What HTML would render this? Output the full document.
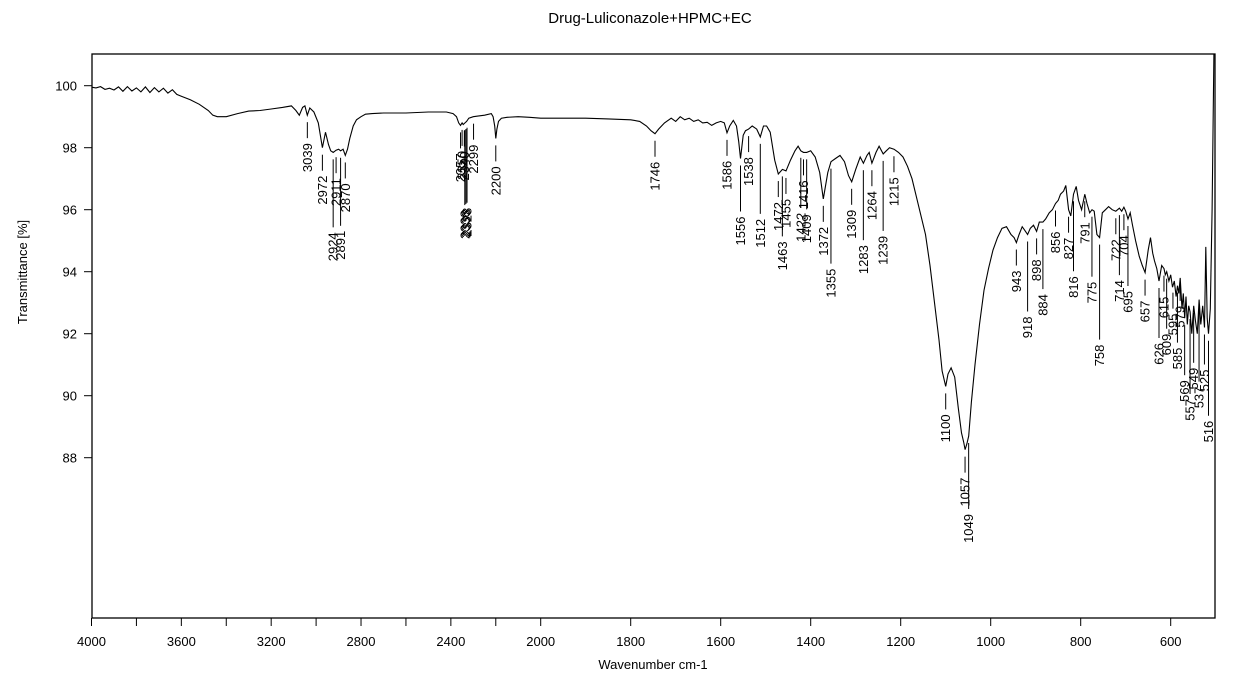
<!DOCTYPE html>
<html><head><meta charset="utf-8"><style>
body{margin:0;background:#fff;}
svg{display:block;font-family:"Liberation Sans",Arial,sans-serif;}
</style></head><body>
<svg id="chart" width="1256" height="687" viewBox="0 0 1256 687" xmlns="http://www.w3.org/2000/svg">
<text x="650" y="23" font-size="15" text-anchor="middle">Drug-Luliconazole+HPMC+EC</text>
<text transform="translate(27,272) rotate(-90)" font-size="13" text-anchor="middle">Transmittance [%]</text>
<text x="653" y="669" font-size="13" text-anchor="middle">Wavenumber cm-1</text>
<rect x="92" y="54" width="1123" height="564" fill="none" stroke="#000" stroke-width="1.3"/>
<g id="axes"></g>
<path id="spectrum" fill="none" stroke="#000" stroke-width="1.1"/>
<g id="peaks"></g>
</svg>
<script>
const xTicks=[4000,3800,3600,3400,3200,3000,2800,2600,2400,2200,2000,1800,1600,1400,1200,1000,800,600];
const xTickLabels=[4000,3600,3200,2800,2400,2000,1800,1600,1400,1200,1000,800,600];
const yTicks=[88,90,92,94,96,98,100];
const waves=[
4000,3980,3960,3940,3920,3900,3880,3860,3840,3820,
3800,3780,3760,3740,3720,3700,3680,3660,3640,3620,
3600,3560,3520,3480,3460,3440,3400,3350,3300,3250,
3200,3150,3110,3090,3075,3060,3050,3039,3028,3010,
2990,2972,2958,2945,2935,2924,2911,2900,2891,2880,
2870,2860,2850,2835,2820,2800,2780,2750,2700,2600,
2500,2420,2390,2375,2365,2357,2350,2345,2340,2330,
2320,2300,2280,2250,2220,2212,2205,2200,2195,2188,
2175,2150,2100,2050,2000,1950,1900,1850,1800,1780,
1765,1755,1746,1738,1725,1710,1700,1690,1680,1670,
1660,1650,1640,1630,1620,1610,1600,1592,1586,1580,
1572,1565,1560,1556,1550,1545,1538,1530,1520,1512,
1505,1498,1490,1480,1472,1463,1455,1445,1435,1428,
1422,1416,1409,1400,1390,1380,1372,1362,1355,1345,
1335,1325,1316,1309,1300,1290,1283,1275,1270,1264,
1255,1248,1239,1232,1225,1215,1205,1195,1185,1175,
1165,1155,1145,1135,1125,1115,1108,1100,1095,1088,
1080,1072,1065,1060,1057,1053,1049,1043,1035,1025,
1015,1005,995,985,975,965,955,948,943,937,
930,925,918,912,905,898,892,884,878,870,
863,856,850,845,838,833,827,822,816,810,
805,798,791,786,780,775,770,764,758,752,
745,738,730,722,718,714,709,704,700,695,
690,685,678,670,663,657,650,645,640,636,
631,626,620,615,612,609,604,600,596,592,
588,585,582,579,575,572,569,566,563,560,
557,553,549,545,541,537,533,529,525,522,
519,516,512,508,504,502];
const trans=[
99.95,99.93,99.97,99.88,99.92,99.86,99.96,99.82,99.97,99.83,
99.93,99.8,99.96,99.78,99.94,99.8,99.92,99.76,99.87,99.72,
99.66,99.55,99.4,99.2,99.05,99.0,99.0,99.1,99.18,99.2,
99.25,99.3,99.35,99.2,99.05,99.3,99.35,99.05,99.28,99.15,
98.8,98.0,98.5,98.1,97.9,97.85,97.92,97.95,97.9,97.95,
97.75,97.95,98.3,98.7,98.9,99.0,99.08,99.1,99.12,99.12,
99.15,99.15,99.1,99.0,98.8,98.72,98.8,98.75,98.78,98.85,
98.95,99.0,99.02,99.05,99.1,99.0,98.7,98.3,98.6,98.85,
98.95,98.98,99.0,98.98,98.95,98.95,98.95,98.93,98.9,98.85,
98.7,98.55,98.45,98.6,98.8,98.95,98.85,99.0,98.9,98.95,
98.85,98.9,98.8,98.82,98.72,98.8,98.85,98.8,98.48,98.7,
98.88,98.7,98.2,97.65,98.4,98.55,98.6,98.7,98.6,98.35,
98.7,98.7,98.5,97.6,97.15,97.3,97.25,97.6,97.9,98.05,
97.9,97.85,97.85,97.9,97.7,97.2,96.35,97.2,97.55,97.65,
97.75,97.55,97.1,96.9,97.3,97.7,97.5,97.75,97.85,97.5,
97.85,98.05,97.8,97.9,98.0,97.95,97.85,97.7,97.4,97.0,
96.4,95.8,95.2,94.2,93.0,91.8,90.8,90.3,90.7,90.9,
90.6,89.6,88.8,88.5,88.26,88.45,88.7,89.8,91.0,92.3,
93.4,94.1,94.7,95.1,95.4,95.45,95.2,95.1,94.94,95.2,
95.45,95.35,95.2,95.4,95.5,95.3,95.6,95.6,95.7,95.9,
96.0,96.2,96.3,96.5,96.6,96.78,96.0,95.8,96.5,96.75,
96.3,96.0,96.5,96.2,95.9,96.0,95.95,95.2,95.1,95.9,
96.0,96.1,96.0,95.95,96.0,96.05,95.95,96.08,95.95,95.7,
95.9,95.5,95.0,94.5,94.2,93.97,94.7,95.1,94.6,94.35,
94.1,93.7,94.2,94.1,93.9,94.0,93.7,93.9,93.5,93.7,
93.2,93.55,93.3,93.8,92.8,93.3,92.5,93.2,92.3,92.9,
92.7,92.0,92.9,92.4,92.0,93.1,92.3,92.9,92.2,94.8,
92.5,92.0,92.8,96.0,101.0,101.5];
const peakWaves=[3039,2972,2924,2911,2891,2870,2357,2350,2340,2338,2333,2328,2299,2200,1746,1586,1556,1538,1512,1472,1463,1455,1422,1416,1409,1372,1355,1309,1283,1264,1239,1215,1100,1057,1049,943,918,898,884,856,827,816,791,775,758,722,714,704,695,657,626,615,609,595,585,579,569,557,549,537,525,516];
const peakLen=[16,16,68,16,68,16,16,16,16,75,75,75,16,16,16,16,46,16,70,16,60,16,50,16,50,16,95,16,70,16,70,16,16,16,66,16,70,16,60,16,16,70,16,60,95,16,60,16,60,16,50,16,50,16,50,16,50,75,50,75,30,75];

function X(w){return w>=2000?540.7-(w-2000)*0.2246:540.7+(2000-w)*0.45;}
function Y(t){return 85.7+(100-t)*31;}
function clampY(y){return Math.max(54,Math.min(618,y));}
function curveAt(w){for(let i=0;i<waves.length-1;i++){if(w<=waves[i]&&w>=waves[i+1]){const f=(waves[i]-w)/(waves[i]-waves[i+1]);return trans[i]+f*(trans[i+1]-trans[i]);}}return 100;}
const NS='http://www.w3.org/2000/svg';
const axes=document.getElementById('axes');
xTicks.forEach(w=>{const l=document.createElementNS(NS,'line');


l.setAttribute('x1',X(w));l.setAttribute('x2',X(w));l.setAttribute('y1',618);l.setAttribute('y2',626);l.setAttribute('stroke','#000');axes.appendChild(l);});
xTickLabels.forEach(w=>{const t=document.createElementNS(NS,'text');


t.setAttribute('x',X(w));t.setAttribute('y',646);t.setAttribute('font-size','13');t.setAttribute('text-anchor','middle');t.textContent=w;axes.appendChild(t);});
yTicks.forEach(v=>{const l=document.createElementNS(NS,'line');


l.setAttribute('x1',84);l.setAttribute('x2',92);l.setAttribute('y1',Y(v));l.setAttribute('y2',Y(v));l.setAttribute('stroke','#000');axes.appendChild(l);
const t=document.createElementNS(NS,'text');


t.setAttribute('x',77);t.setAttribute('y',Y(v)+5);t.setAttribute('font-size','13');t.setAttribute('text-anchor','end');t.textContent=v;axes.appendChild(t);});
let d='';waves.forEach((w,i)=>{d+=(i?'L':'M')+X(w).toFixed(1)+','+clampY(Y(trans[i])).toFixed(1);});
document.getElementById('spectrum').setAttribute('d',d);
const pg=document.getElementById('peaks');
peakWaves.forEach((w,i)=>{const x=X(w),y0=Y(curveAt(w))+7,y1=y0+peakLen[i];
const l=document.createElementNS(NS,'line');


l.setAttribute('x1',x);l.setAttribute('x2',x);l.setAttribute('y1',y0);l.setAttribute('y2',y1);l.setAttribute('stroke','#000');pg.appendChild(l);
const t=document.createElementNS(NS,'text');


t.setAttribute('transform','translate('+(x+4.5)+','+(y1+5)+') rotate(-90)');t.setAttribute('font-size','13');t.setAttribute('text-anchor','end');t.textContent=w;pg.appendChild(t);});
</script>
</body></html>
